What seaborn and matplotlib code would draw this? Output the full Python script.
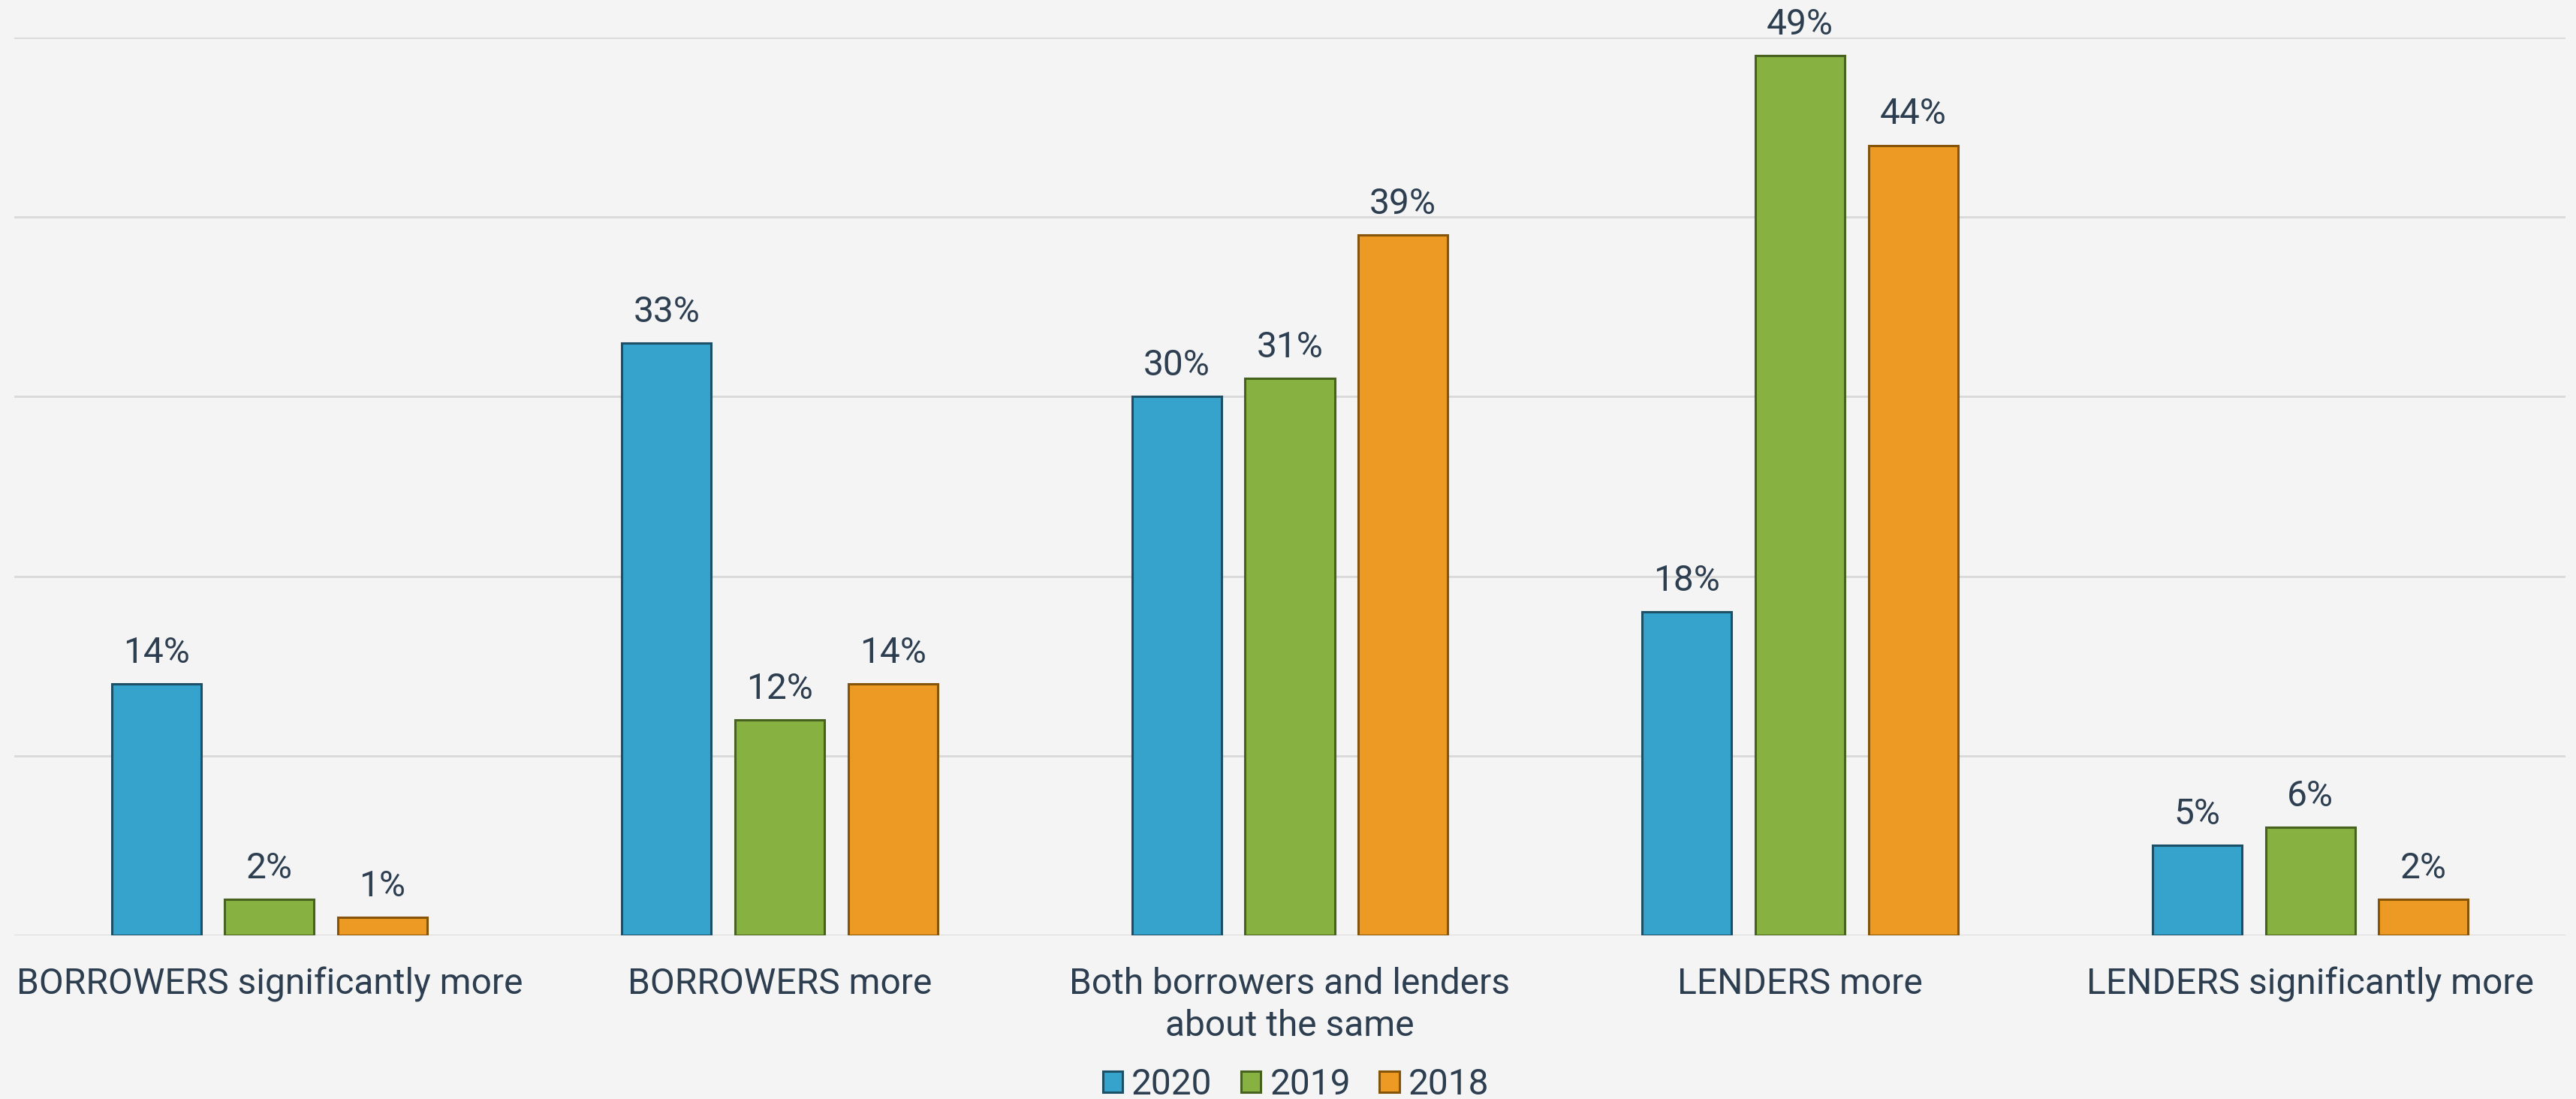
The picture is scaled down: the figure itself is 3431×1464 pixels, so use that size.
import matplotlib
matplotlib.use("Agg")
import matplotlib.pyplot as plt
import seaborn as sns
import pandas as pd
from matplotlib.patches import Patch

categories = [
    "BORROWERS significantly more",
    "BORROWERS more",
    "Both borrowers and lenders\nabout the same",
    "LENDERS more",
    "LENDERS significantly more",
]
years = ["2020", "2019", "2018"]
values_2020 = [14, 33, 30, 18, 5]
values_2019 = [2, 12, 31, 49, 6]
values_2018 = [1, 14, 39, 44, 2]

fills = ["#35a3cc", "#87b242", "#ec9a23"]
edges = ["#1d4f66", "#46621e", "#855409"]
bg = "#f4f4f4"
text_color = "#2c3e50"
fs = 34.5

df = pd.DataFrame({
    "category": categories * 3,
    "year": [y for y in years for _ in categories],
    "value": values_2020 + values_2019 + values_2018,
})

sns.set_theme(style="white")
plt.rcParams["font.family"] = ["Roboto", "DejaVu Sans"]

fig = plt.figure(figsize=(34.31, 14.64), dpi=100, facecolor=bg)
ax = fig.add_axes([19 / 3431, 1 - 1246 / 1464, 3398 / 3431, (1246 - 50) / 1464])
ax.set_facecolor(bg)

sns.barplot(data=df, x="category", y="value", hue="year", hue_order=years,
            palette=fills, saturation=1, width=0.665, gap=0.21, ax=ax, legend=False,
            linewidth=2.2, zorder=3)

for container, ec in zip(ax.containers, edges):
    for bar in container:
        bar.set_edgecolor(ec)
    ax.bar_label(container, labels=[f"{int(round(b.get_height()))}%" for b in container],
                 padding=13, fontsize=fs, color=text_color, clip_on=False)

ax.set_ylim(0, 50)
ax.set_xlim(-0.5, 4.5)
ax.set_yticks([0, 10, 20, 30, 40, 50])
ax.set_yticklabels([])
ax.tick_params(axis="y", length=0)
ax.yaxis.grid(True, color="#d9d9d9", linewidth=2)
ax.set_axisbelow(True)
for s in ax.spines.values():
    s.set_visible(False)
ax.set_xlabel("")
ax.set_ylabel("")
ax.tick_params(axis="x", length=0, pad=30, labelsize=fs, labelcolor=text_color)
for lbl in ax.get_xticklabels():
    lbl.set_linespacing(1.3)

handles = [Patch(facecolor=f, edgecolor=e, linewidth=2.2) for f, e in zip(fills, edges)]
fig.legend(handles, years, loc="center", bbox_to_anchor=(1726 / 3431, 1 - 1445 / 1464),
           ncol=3, frameon=False, fontsize=fs, labelcolor=text_color,
           handlelength=0.55, handleheight=0.55, handletextpad=0.25, columnspacing=0.8)

fig.savefig("out.png", dpi=100, facecolor=bg)
